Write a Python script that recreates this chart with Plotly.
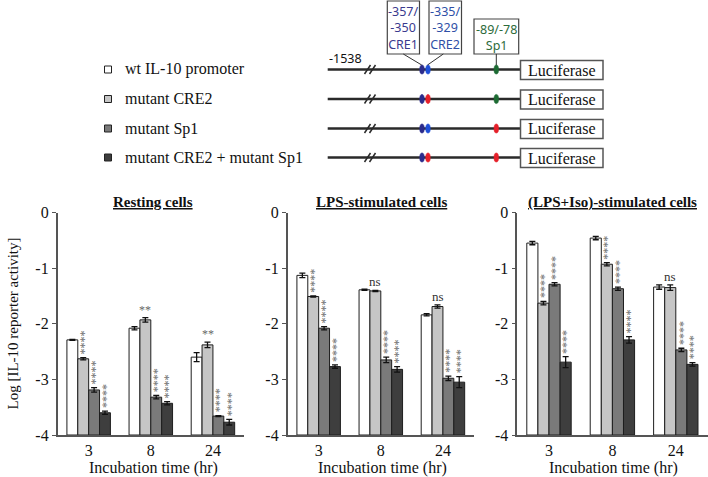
import plotly.graph_objects as go

# ---------------- data ----------------
times = ["3", "8", "24"]
series_names = ["wt IL-10 promoter", "mutant CRE2", "mutant Sp1", "mutant CRE2 + mutant Sp1"]
series_colors = ["#ffffff", "#c6c6c6", "#7a7a7a", "#3e3e3e"]
panel_titles = ["Resting cells", "LPS-stimulated cells", "(LPS+Iso)-stimulated cells"]
y_ticks = [0, -1, -2, -3, -4]
y_ticklabels = ["0", "-1", "-2", "-3", "-4"]

resting_wt = [-2.29, -2.08, -2.60]
resting_cre2 = [-2.63, -1.93, -2.38]
resting_sp1 = [-3.19, -3.32, -3.66]
resting_dbl = [-3.60, -3.43, -3.77]
resting_err_wt = [0.01, 0.03, 0.08]
resting_err_cre2 = [0.02, 0.04, 0.05]
resting_err_sp1 = [0.04, 0.03, 0.01]
resting_err_dbl = [0.03, 0.03, 0.05]
resting_sig_cre2 = ["****", "**", "**"]
resting_sig_sp1 = ["****", "****", "****"]
resting_sig_dbl = ["****", "****", "****"]

lps_wt = [-1.13, -1.39, -1.84]
lps_cre2 = [-1.51, -1.41, -1.69]
lps_sp1 = [-2.08, -2.65, -2.98]
lps_dbl = [-2.77, -2.82, -3.05]
lps_err_wt = [0.04, 0.01, 0.02]
lps_err_cre2 = [0.01, 0.01, 0.03]
lps_err_sp1 = [0.03, 0.05, 0.04]
lps_err_dbl = [0.03, 0.05, 0.10]
lps_sig_cre2 = ["****", "ns", "ns"]
lps_sig_sp1 = ["****", "****", "****"]
lps_sig_dbl = ["****", "****", "****"]

iso_wt = [-0.55, -0.46, -1.34]
iso_cre2 = [-1.63, -0.93, -1.35]
iso_sp1 = [-1.29, -1.37, -2.47]
iso_dbl = [-2.69, -2.29, -2.73]
iso_err_wt = [0.03, 0.03, 0.04]
iso_err_cre2 = [0.03, 0.03, 0.05]
iso_err_sp1 = [0.03, 0.03, 0.03]
iso_err_dbl = [0.10, 0.06, 0.03]
iso_sig_cre2 = ["****", "****", "ns"]
iso_sig_sp1 = ["****", "****", "****"]
iso_sig_dbl = ["****", "****", "****"]

panels = [
    dict(values=[resting_wt, resting_cre2, resting_sp1, resting_dbl],
         errors=[resting_err_wt, resting_err_cre2, resting_err_sp1, resting_err_dbl],
         sigs=[None, resting_sig_cre2, resting_sig_sp1, resting_sig_dbl]),
    dict(values=[lps_wt, lps_cre2, lps_sp1, lps_dbl],
         errors=[lps_err_wt, lps_err_cre2, lps_err_sp1, lps_err_dbl],
         sigs=[None, lps_sig_cre2, lps_sig_sp1, lps_sig_dbl]),
    dict(values=[iso_wt, iso_cre2, iso_sp1, iso_dbl],
         errors=[iso_err_wt, iso_err_cre2, iso_err_sp1, iso_err_dbl],
         sigs=[None, iso_sig_cre2, iso_sig_sp1, iso_sig_dbl]),
]

# construct schematic: site colours per construct (CRE1, CRE2, Sp1)
NAVY, BLUE, RED, GREEN = "#2b2b8c", "#1f4fd8", "#e5202a", "#1d6b33"
construct_sites = [
    [NAVY, BLUE, GREEN],
    [NAVY, RED, GREEN],
    [NAVY, BLUE, RED],
    [NAVY, RED, RED],
]

# ---------------- layout helpers ----------------
W, H = 708, 477
SERIF = "Liberation Serif"
SANS = "Noto Sans"


def px(x):
    return x / W


def py(y):
    return 1 - y / H


BAR_BASE = -4
BARGAP = 0.3
x_domains = [(57.6, 244.0), (287.6, 474.0), (517.3, 707.5)]
y_domain = (py(435), py(212.5))
title_x = [153, 381, 612]
xtitle_x = [153, 382, 613]

fig = go.Figure()
annotations = []
shapes = []

bw = (1 - BARGAP) / 4
for p, panel in enumerate(panels):
    sfx = "" if p == 0 else str(p + 1)
    for s in range(4):
        vals = panel["values"][s]
        fig.add_trace(go.Bar(
            x=list(range(len(times))),
            y=[v - BAR_BASE for v in vals],
            base=BAR_BASE,
            name=series_names[s],
            marker=dict(color=series_colors[s], line=dict(color="#1e1e1e", width=1)),
            error_y=dict(type="data", array=panel["errors"][s], color="#111111",
                         thickness=1.3, width=3),
            xaxis="x" + sfx, yaxis="y" + sfx,
            showlegend=False,
        ))
        sig = panel["sigs"][s]
        if sig is None:
            continue
        for g, lab in enumerate(sig):
            xpos = g + (s - 1.5) * bw
            ytop = vals[g] + panel["errors"][s][g]
            if lab == "****":
                annotations.append(dict(
                    x=xpos, y=ytop, xref="x" + sfx, yref="y" + sfx,
                    text=lab, textangle=90, showarrow=False,
                    xanchor="center", yanchor="bottom", yshift=1, xshift=-2,
                    font=dict(family=SERIF, size=12, color="#6e6e6e")))
            elif lab == "ns":
                annotations.append(dict(
                    x=xpos, y=ytop, xref="x" + sfx, yref="y" + sfx,
                    text=lab, showarrow=False, xanchor="center", yanchor="bottom",
                    yshift=-1, font=dict(family=SERIF, size=13, color="#333333")))
            else:
                annotations.append(dict(
                    x=xpos, y=ytop, xref="x" + sfx, yref="y" + sfx,
                    text=lab, showarrow=False, xanchor="center", yanchor="bottom",
                    yshift=-1, font=dict(family=SERIF, size=12, color="#666666")))

    axis_common = dict(showgrid=False, zeroline=False, showline=True,
                       linecolor="#555555", linewidth=1.5)
    fig.layout["xaxis" + sfx] = dict(
        domain=[px(x_domains[p][0]), px(x_domains[p][1])],
        range=[-0.5, len(times) - 0.5],
        tickmode="array", tickvals=list(range(len(times))), ticktext=times,
        ticks="", tickfont=dict(family=SERIF, size=16, color="#111"),
        anchor="y" + sfx, fixedrange=True, automargin=False, **axis_common)
    fig.layout["yaxis" + sfx] = dict(
        domain=list(y_domain), range=[-4, 0],
        tickmode="array", tickvals=y_ticks, ticktext=y_ticklabels,
        ticks="outside", ticklen=4, tickcolor="#555555", tickwidth=1.2,
        tickfont=dict(family=SERIF, size=16, color="#111"),
        anchor="x" + sfx, fixedrange=True, automargin=False, **axis_common)

    annotations.append(dict(
        x=px(title_x[p]), y=py(202), xref="paper", yref="paper",
        text="<u><b>" + panel_titles[p] + "</b></u>", showarrow=False,
        xanchor="center", yanchor="middle",
        font=dict(family=SERIF, size=15, color="#111")))
    annotations.append(dict(
        x=px(xtitle_x[p]), y=py(467.5), xref="paper", yref="paper",
        text="Incubation time (hr)", showarrow=False,
        xanchor="center", yanchor="middle",
        font=dict(family=SERIF, size=16, color="#111")))

annotations.append(dict(
    x=px(12), y=py(323.5), xref="paper", yref="paper",
    text="Log [IL-10 reporter activity]", textangle=-90, showarrow=False,
    xanchor="center", yanchor="middle",
    font=dict(family=SERIF, size=15, color="#111")))

# ---------------- schematic ----------------
row_y = [69.5, 99, 128.5, 157.5]
LINE_X0, LINE_X1 = 327.7, 520
site_x = [422, 428, 496.3]
for r, yy in enumerate(row_y):
    # legend square + label
    shapes.append(dict(type="rect", xref="paper", yref="paper",
                       x0=px(104.5), x1=px(111.5), y0=py(yy - 3.5), y1=py(yy + 3.5),
                       fillcolor=series_colors[r], line=dict(color="#222", width=1)))
    annotations.append(dict(x=px(123), y=py(yy), xref="paper", yref="paper",
                            text=series_names[r], showarrow=False,
                            xanchor="left", yanchor="middle",
                            font=dict(family=SERIF, size=16, color="#111")))
    # promoter line
    shapes.append(dict(type="line", xref="paper", yref="paper",
                       x0=px(LINE_X0), x1=px(LINE_X1), y0=py(yy), y1=py(yy),
                       line=dict(color="#2a2a2a", width=2.5)))
    # break marks
    for dx in (0, 5):
        shapes.append(dict(type="line", xref="paper", yref="paper",
                           x0=px(364.5 + dx), x1=px(370.5 + dx),
                           y0=py(yy + 4.5), y1=py(yy - 4.5),
                           line=dict(color="#2a2a2a", width=1.5)))
    # binding sites
    for k, col in enumerate(construct_sites[r]):
        shapes.append(dict(type="circle", xref="paper", yref="paper",
                           x0=px(site_x[k] - 2.3), x1=px(site_x[k] + 2.3),
                           y0=py(yy - 4.6), y1=py(yy + 4.6),
                           fillcolor=col, line=dict(color=col, width=0.5)))
    # luciferase box
    shapes.append(dict(type="rect", xref="paper", yref="paper",
                       x0=px(520.5), x1=px(603), y0=py(yy - 9), y1=py(yy + 10),
                       fillcolor="white", line=dict(color="#555", width=1.5)))
    annotations.append(dict(x=px(561.5), y=py(yy + 0.5), xref="paper", yref="paper",
                            text="Luciferase", showarrow=False,
                            xanchor="center", yanchor="middle",
                            font=dict(family=SERIF, size=16, color="#111")))

annotations.append(dict(x=px(327), y=py(58), xref="paper", yref="paper",
                        text="-1538", showarrow=False, xanchor="left", yanchor="middle",
                        font=dict(family=SANS, size=12.5, color="#111")))

site_boxes = [
    dict(x0=387.3, x1=419.5, y0=1, y1=54, text="-357/<br>-350<br>CRE1", color="#3a3a8e",
         conn=(403.3, 54, 421.7, 65)),
    dict(x0=429, x1=461.5, y0=1, y1=54, text="-335/<br>-329<br>CRE2", color="#2f4fa6",
         conn=(443.3, 54, 427.5, 65)),
    dict(x0=474, x1=518.7, y0=19, y1=54, text="-89/-78<br>Sp1", color="#2d6b3b",
         conn=(496.3, 54, 496.3, 65)),
]
for b in site_boxes:
    shapes.append(dict(type="rect", xref="paper", yref="paper",
                       x0=px(b["x0"]), x1=px(b["x1"]), y0=py(b["y1"]), y1=py(b["y0"]),
                       fillcolor="white", line=dict(color="#444", width=1.2)))
    annotations.append(dict(x=px((b["x0"] + b["x1"]) / 2), y=py((b["y0"] + b["y1"]) / 2 + 1),
                            xref="paper", yref="paper", text=b["text"], showarrow=False,
                            xanchor="center", yanchor="middle",
                            font=dict(family=SANS, size=12.5, color=b["color"])))
    c = b["conn"]
    shapes.append(dict(type="line", xref="paper", yref="paper",
                       x0=px(c[0]), y0=py(c[1]), x1=px(c[2]), y1=py(c[3]),
                       line=dict(color="#333", width=1)))

fig.update_layout(
    width=W, height=H,
    margin=dict(l=0, r=0, t=0, b=0, pad=0),
    paper_bgcolor="white", plot_bgcolor="white",
    barmode="group", bargap=BARGAP, bargroupgap=0,
    showlegend=False,
    annotations=annotations,
    shapes=shapes,
)

fig.write_html(
    "out.html",
    config={"displayModeBar": False},
    post_script="document.body.style.margin='0px';document.body.style.padding='0px';",
)
